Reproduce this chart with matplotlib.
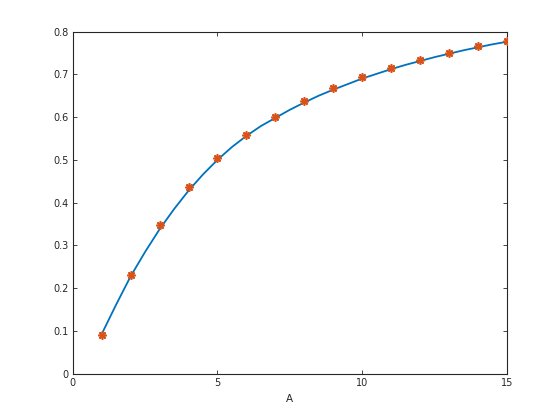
import matplotlib
matplotlib.use("Agg")
import matplotlib.pyplot as plt

# measured data points
x_pts = [1, 2, 3, 4, 5, 6, 7, 8, 9, 10, 11, 12, 13, 14, 15]
y_pts = [0.090, 0.230, 0.347, 0.436, 0.504, 0.558, 0.600, 0.638, 0.668,
         0.694, 0.715, 0.734, 0.750, 0.767, 0.778]

# fitted curve, values
x_fit = [1, 1.5, 2, 2.5, 3, 3.5, 4, 4.5, 5, 5.5, 6, 6.5, 7, 7.5, 8, 8.5,
         9, 9.5, 10, 10.5, 11, 11.5, 12, 12.5, 13, 13.5, 14, 14.5, 15]
y_fit = [0.093, 0.162, 0.228, 0.285, 0.338, 0.385, 0.428, 0.466, 0.500,
         0.530, 0.556, 0.579, 0.598, 0.617, 0.634, 0.650, 0.664, 0.677,
         0.690, 0.701, 0.712, 0.722, 0.731, 0.740, 0.748, 0.756, 0.763,
         0.770, 0.776]

x_ticks = [0, 5, 10, 15]
y_ticks = [0, 0.1, 0.2, 0.3, 0.4, 0.5, 0.6, 0.7, 0.8]
y_tick_labels = ["0", "0.1", "0.2", "0.3", "0.4", "0.5", "0.6", "0.7", "0.8"]

plt.rcParams['font.family'] = ['DejaVu Sans']
fig = plt.figure(figsize=(5.6, 4.2), dpi=100)
ax = fig.add_axes([0.13, 0.11, 0.775, 0.815])

ax.plot(x_fit, y_fit, color='#0072BD', lw=1.3, zorder=2)
ax.plot(x_pts, y_pts, linestyle='none', marker=(8, 2, 0), markersize=6,
        markeredgewidth=1.2, color='#D95319', markeredgecolor='#D95319',
        zorder=3)

ax.set_xlim(0, 15)
ax.set_ylim(0, 0.8)
ax.set_xticks(x_ticks)
ax.set_xticklabels([str(t) for t in x_ticks])
ax.set_yticks(y_ticks)
ax.set_yticklabels(y_tick_labels)
ax.tick_params(direction='in', length=3, width=0.6, labelsize=7,
               top=True, right=True, colors='#262626', pad=3)
for s in ax.spines.values():
    s.set_linewidth(0.8)
    s.set_color('#262626')
ax.set_xlabel('A', fontsize=7.5, color='#262626', labelpad=4)

fig.savefig('out.png', dpi=100)
